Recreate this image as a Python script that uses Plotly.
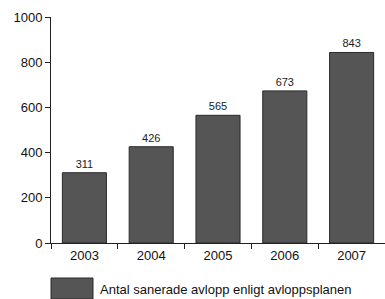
import plotly.graph_objects as go

years = ["2003", "2004", "2005", "2006", "2007"]
values = [311, 426, 565, 673, 843]
series_name = "Antal sanerade avlopp enligt avloppsplanen"
y_ticks = [0, 200, 400, 600, 800, 1000]

bar_color = "#555555"
edge_color = "#2a2a2a"
font_family = "Liberation Sans, Arial, sans-serif"

fig = go.Figure()
fig.add_trace(go.Bar(
    x=years, y=values, name=series_name,
    marker=dict(color=bar_color, line=dict(color=edge_color, width=1)),
    width=0.66,
    text=[str(v) for v in values], textposition="outside",
    textfont=dict(size=11, color="#222222", family=font_family),
    cliponaxis=False, showlegend=False, hoverinfo="skip",
))

fig.update_layout(
    width=385, height=299,
    margin=dict(l=51, r=0, t=17, b=56),
    paper_bgcolor="white", plot_bgcolor="white",
    font=dict(family=font_family, size=13, color="#111111"),
    bargap=0.34,
)
fig.update_xaxes(
    showline=True, linecolor="#222222", linewidth=1,
    ticks="outside", tickson="boundaries", ticklen=5, tickcolor="#222222",
    showgrid=False, tickfont=dict(size=13),
)
fig.update_yaxes(
    range=[0, 1000], tickvals=y_ticks,
    showline=True, linecolor="#222222", linewidth=1,
    ticks="outside", ticklen=5, tickcolor="#222222",
    showgrid=False, zeroline=False, tickfont=dict(size=13),
)

# legend swatch + label
fig.add_shape(type="rect", xref="paper", yref="paper",
              x0=0, x1=42/334, y0=-56/226, y1=-35/226,
              fillcolor=bar_color, line=dict(color=edge_color, width=1))
fig.add_annotation(xref="paper", yref="paper", x=47/334, y=-46/226,
                   text=series_name, showarrow=False, xanchor="left", yanchor="middle",
                   font=dict(size=13, color="#111111"))

fig.write_html("out.html", config={"displayModeBar": False},
               post_script="document.body.style.margin='0';document.body.style.overflow='hidden';")
